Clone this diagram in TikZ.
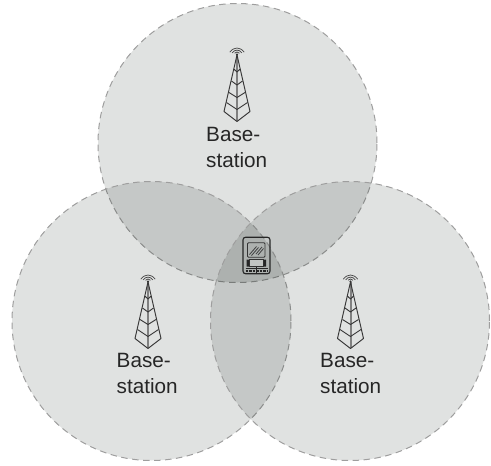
\documentclass[tikz,border=0pt]{standalone}
\usepackage{fontspec}
\setmainfont{Liberation Sans}
\usepackage{tikz}
\usetikzlibrary{positioning}
\definecolor{cellfill}{RGB}{0,14,7}

\begin{document}
\begin{tikzpicture}[
  x=1pt, y=-1pt,
  cell/.style={circle, draw=black!38, line width=1pt, dash pattern=on 6.5pt off 4.5pt, fill=cellfill, fill opacity=.12, draw opacity=1, minimum size=279pt, inner sep=0pt},
  label/.style={font=\fontsize{20.7}{26.4}\selectfont, align=left, inner sep=0pt, text=black!85},
  leg/.style={draw=black!78, line width=0.95pt, line join=round},
  wave/.style={draw=black!72, line width=0.75pt},
  mast/.pic={
    \draw[black!50, line width=2pt] (0,0) -- (0,66);
    \draw[leg] (-13,56.5) -- (0,0) -- (13,56.5) -- (0,66.5) -- cycle;
    \draw[leg] (-10.5,47.5) -- (0,54.5) -- (10.5,47.5);
    \draw[leg] (-8,37.5) -- (0,42.5) -- (8,37.5);
    \draw[leg] (-5.5,26) -- (0,30) -- (5.5,26);
    \draw[leg] (-3.2,14) -- (0,17) -- (3.2,14);
    \fill[black!80] (0,-0.5) circle[radius=1.1pt];
    \draw[wave] (-2.4,-1.8) .. controls (-1,-3.4) and (1,-3.4) .. (2.4,-1.8);
    \draw[wave] (-4.8,-2.2) .. controls (-2,-5.8) and (2,-5.8) .. (4.8,-2.2);
    \draw[wave] (-7.2,-2.8) .. controls (-3,-8.4) and (3,-8.4) .. (7.2,-2.8);
  }
]
\useasboundingbox (0,0) rectangle (491,466);
\node[cell] (topcell) at (237.5,143) {};
\node[cell] (leftcell) at (151.5,321) {};
\node[cell] (rightcell) at (350,321) {};
\pic at (237,55) {mast};
\pic at (148,282) {mast};
\pic at (350.5,282) {mast};
\node[label, anchor=north west] (toplabel) at (206,127) {Base-\\station};
\node[label, anchor=north west] (leftlabel) at (116.5,353) {Base-\\station};
\node[label, anchor=north west] (rightlabel) at (320,353) {Base-\\station};
\node[draw=black!85, line width=1.1pt, rounded corners=2.5pt, minimum width=27pt, minimum height=36.5pt, inner sep=0pt] (device) at (256.5,255.5) {};
\node[draw=black!80, line width=0.9pt, rounded corners=1pt, minimum width=17.5pt, minimum height=14.5pt, inner sep=0pt] (screen) at (256.2,250) {};
\draw[black!75, line width=0.8pt] (249.5,254.5) -- (256.5,246.5) (251.5,255.5) -- (258.5,247.5) (256,254) -- (262,247) (258,255) -- (263.5,248.5);
\node[fill=white, fill opacity=.25, draw=black!80, line width=0.8pt, minimum width=14.5pt, minimum height=7pt, inner sep=0pt] (panel) at (256.3,263) {};
\fill[black!85] (246.5,259.5) rectangle (249,266.5) (263.7,259.5) rectangle (266.2,266.5);
\draw[black!85, line width=0.9pt] (245.5,268) -- (267.5,268);
\draw[black!85, line width=1.4pt, dash pattern=on 2.6pt off 0.9pt] (245.5,271) -- (267.5,271);
\draw[black!85, line width=1.6pt] (256.5,267) -- (256.5,273);
\end{tikzpicture}
\end{document}
